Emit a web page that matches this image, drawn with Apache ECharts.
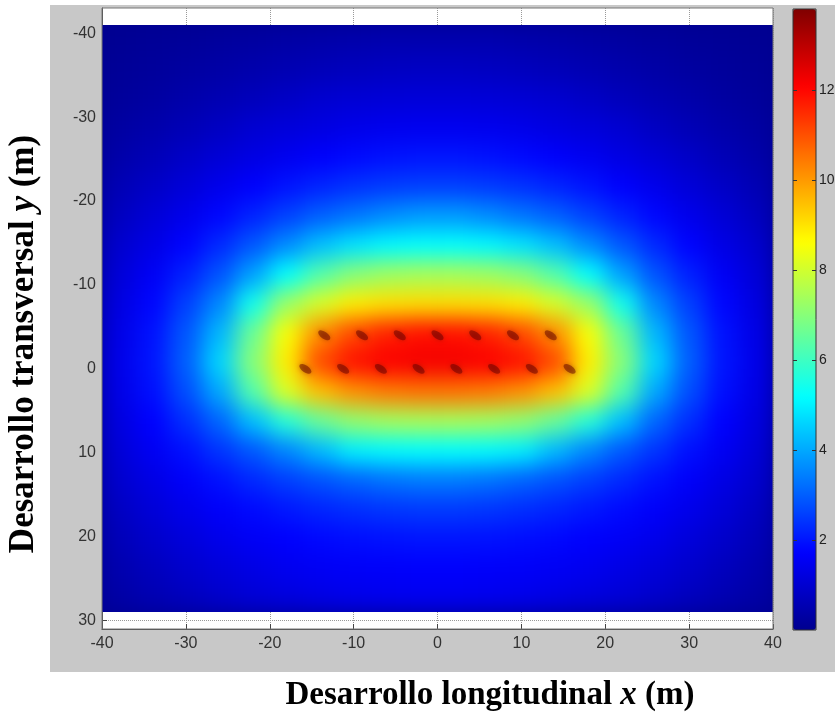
<!DOCTYPE html>
<html>
<head>
<meta charset="utf-8">
<script src="https://cdn.jsdelivr.net/npm/echarts@6/dist/echarts.min.js"></script>
<style>
  body { margin: 0; background: #fff; }
  .layer { position: absolute; left: 0; top: 0; width: 835px; height: 723px; }
  #panel { position: absolute; left: 50px; top: 5px; width: 785px; height: 667px; background: #c8c8c8; }
  #clip { position: absolute; left: 102px; top: 25px; width: 671px; height: 587px; overflow: hidden; }
  #heat { position: absolute; left: -40px; top: -40px; width: 751px; height: 667px; filter: blur(11px); }
</style>
</head>
<body>
<div id="panel"></div>
<div id="base" class="layer"></div>
<div id="clip"><div id="heat"></div></div>
<div id="top" class="layer"></div>
<script>
// centros de las celdas (m)
var xCenters = [-38, -34, -30, -26, -22, -18, -14, -10, -6, -2, 2, 6, 10, 14, 18, 22, 26, 30, 34, 38];
var yCenters = [-39.25, -35.75, -32.25, -28.75, -25.25, -21.75, -18.25, -14.75, -11.25, -7.75,
                -4.25, -0.75, 2.75, 6.25, 9.75, 13.25, 16.75, 20.25, 23.75, 27.25];

// valores, una fila por cada y (de arriba a abajo)
var zRows = [
  [0.08,0.12,0.15,0.22,0.28,0.34,0.40,0.45,0.49,0.5,0.5,0.49,0.45,0.40,0.34,0.28,0.22,0.15,0.12,0.08],
  [0.12,0.18,0.26,0.35,0.45,0.54,0.63,0.71,0.77,0.8,0.8,0.77,0.71,0.63,0.54,0.45,0.35,0.26,0.18,0.12],
  [0.19,0.28,0.41,0.54,0.68,0.83,0.98,1.06,1.11,1.13,1.13,1.11,1.06,0.98,0.83,0.68,0.54,0.41,0.28,0.19],
  [0.29,0.43,0.6,0.79,1.02,1.15,1.27,1.38,1.46,1.49,1.49,1.46,1.38,1.27,1.15,1.02,0.79,0.6,0.43,0.29],
  [0.42,0.62,0.86,1.1,1.3,1.5,1.68,1.83,1.94,1.99,1.99,1.94,1.83,1.68,1.5,1.3,1.1,0.86,0.62,0.42],
  [0.58,0.84,1.13,1.41,1.69,1.97,2.2,2.38,2.51,2.57,2.57,2.51,2.38,2.2,1.97,1.69,1.41,1.13,0.84,0.58],
  [0.75,1.1,1.42,1.79,2.18,2.6,3.0,3.3,3.6,3.8,3.8,3.6,3.3,3.0,2.6,2.18,1.79,1.42,1.1,0.75],
  [0.97,1.32,1.75,2.27,2.9,3.6,4.3,4.8,5.1,5.2,5.2,5.1,4.8,4.3,3.6,2.9,2.27,1.75,1.32,0.97],
  [1.13,1.57,2.14,2.84,3.9,5.2,6.3,7.0,7.3,7.4,7.4,7.3,7.0,6.3,5.2,3.9,2.84,2.14,1.57,1.13],
  [1.26,1.79,2.57,3.54,5.4,7.25,8.1,8.84,9.03,9.08,9.08,9.03,8.84,8.1,7.25,5.4,3.54,2.57,1.79,1.26],
  [1.36,1.95,2.88,4.2,6.6,8.55,10.18,11.1,11.63,11.86,11.86,11.63,11.1,10.18,8.55,6.6,4.2,2.88,1.95,1.36],
  [1.4,2.0,3.0,4.6,7.0,8.84,11.1,11.86,12.12,12.2,12.2,12.12,11.86,11.1,8.84,7.0,4.6,3.0,2.0,1.4],
  [1.35,1.91,2.78,4.0,6.3,8.15,9.48,10.11,10.42,10.52,10.52,10.42,10.11,9.48,8.15,6.3,4.0,2.78,1.91,1.35],
  [1.25,1.73,2.35,3.1,4.3,5.69,6.58,7.15,7.37,7.44,7.44,7.37,7.15,6.58,5.69,4.3,3.1,2.35,1.73,1.25],
  [1.13,1.54,1.93,2.43,2.93,3.54,4.24,4.98,5.13,5.18,5.18,5.13,4.98,4.24,3.54,2.93,2.43,1.93,1.54,1.13],
  [0.99,1.32,1.65,1.94,2.27,2.58,2.85,3.09,3.29,3.4,3.4,3.29,3.09,2.85,2.58,2.27,1.94,1.65,1.32,0.99],
  [0.8,1.12,1.42,1.65,1.84,2.03,2.21,2.35,2.45,2.5,2.5,2.45,2.35,2.21,2.03,1.84,1.65,1.42,1.12,0.8],
  [0.65,0.92,1.17,1.41,1.58,1.71,1.82,1.9,1.96,2.0,2.0,1.96,1.9,1.82,1.71,1.58,1.41,1.17,0.92,0.65],
  [0.5,0.72,0.96,1.16,1.33,1.5,1.57,1.63,1.67,1.7,1.7,1.67,1.63,1.57,1.5,1.33,1.16,0.96,0.72,0.5],
  [0.36,0.54,0.73,0.93,1.09,1.22,1.32,1.41,1.47,1.5,1.5,1.47,1.41,1.32,1.22,1.09,0.93,0.73,0.54,0.36]
];

// puntos (fila superior y = -4, fila inferior y = 0)
var dotX = [-13.5, -9, -4.5, 0, 4.5, 9, 13.5, -15.75, -11.25, -6.75, -2.25, 2.25, 6.75, 11.25, 15.75];
var dotY = [-4, -4, -4, -4, -4, -4, -4, 0, 0, 0, 0, 0, 0, 0, 0];

var yTicks = [-40, -30, -20, -10, 0, 10, 20, 30];
var barTicks = [2, 4, 6, 8, 10, 12];

var jet = ['#00008f', '#0000ff', '#0080ff', '#00ffff', '#80ff80', '#ffff00', '#ff8000', '#ff0000', '#800000'];

var heatData = [];
zRows.forEach(function (row, j) {
    row.forEach(function (v, i) { heatData.push([i, j, v]); });
});
var dots = dotX.map(function (x, i) { return [x, dotY[i]]; });

var sans = 'Liberation Sans, Arial, sans-serif';
var serif = 'Liberation Serif, Times New Roman, serif';

// capa de fondo: ejes, rejilla, barra de color y titulos
var base = echarts.init(document.getElementById('base'));
base.setOption({
    animation: false,
    grid: { left: 102, top: 8, width: 671, height: 621, show: true, backgroundColor: '#fff', borderWidth: 0, outerBoundsMode: 'none' },
    xAxis: {
        type: 'value', min: -40, max: 40, interval: 10,
        axisLine: { onZero: false, lineStyle: { color: '#444' } },
        axisTick: { inside: true, length: 5, lineStyle: { color: '#444' } },
        axisLabel: { color: '#333', fontSize: 16, margin: 7, fontFamily: sans },
        splitLine: { lineStyle: { type: 'dotted', color: '#999' } }
    },
    yAxis: {
        type: 'value', min: -43, max: 31, inverse: true,
        axisLine: { show: true, onZero: false, lineStyle: { color: '#444' } },
        axisTick: { show: true, inside: true, length: 5, customValues: yTicks, lineStyle: { color: '#444' } },
        axisLabel: { customValues: yTicks, color: '#333', fontSize: 16, margin: 6, fontFamily: sans },
        splitLine: { lineStyle: { type: 'dotted', color: '#999' } }
    },
    visualMap: {
        type: 'continuous', min: 0, max: 13.8, left: 793, top: 9,
        itemWidth: 23, itemHeight: 621, padding: 0, calculable: false, hoverLink: false,
        inRange: { color: jet }
    },
    graphic: [
        {
            type: 'text', x: 490, y: 695,
            style: {
                text: '{r|Desarrollo longitudinal }{i|x}{r| (m)}',
                align: 'center', verticalAlign: 'middle',
                rich: {
                    r: { fontFamily: serif, fontWeight: 'bold', fontSize: 33, fill: '#000' },
                    i: { fontFamily: serif, fontWeight: 'bold', fontStyle: 'italic', fontSize: 33, fill: '#000' }
                }
            }
        },
        {
            type: 'text', x: 24, y: 344, rotation: Math.PI / 2,
            style: {
                text: '{r|Desarrollo transversal }{i|y}{r| (m)}',
                align: 'center', verticalAlign: 'middle',
                rich: {
                    r: { fontFamily: serif, fontWeight: 'bold', fontSize: 35, fill: '#000' },
                    i: { fontFamily: serif, fontWeight: 'bold', fontStyle: 'italic', fontSize: 35, fill: '#000' }
                }
            }
        }
    ]
});

// mapa de calor (suavizado con un desenfoque CSS como el sombreado interpolado)
var heat = echarts.init(document.getElementById('heat'));
heat.setOption({
    animation: false,
    backgroundColor: '#00008f',
    grid: { left: 40, top: 40, right: 40, bottom: 40, outerBoundsMode: 'none' },
    xAxis: { type: 'category', data: xCenters, show: false },
    yAxis: { type: 'category', data: yCenters, inverse: true, show: false },
    visualMap: { show: false, min: 0, max: 13.8, inRange: { color: jet } },
    series: [{ type: 'heatmap', data: heatData }]
});

// capa superior: marco, puntos y escala de la barra de color
var topc = echarts.init(document.getElementById('top'));
topc.setOption({
    animation: false,
    grid: [
        { left: 102, top: 8, width: 671, height: 621, show: true, borderColor: '#777', borderWidth: 1, outerBoundsMode: 'none' },
        { left: 793, top: 9, width: 23, height: 621, show: true, borderColor: '#333', borderWidth: 1, outerBoundsMode: 'none' }
    ],
    xAxis: [
        { gridIndex: 0, type: 'value', min: -40, max: 40, show: false },
        { gridIndex: 1, type: 'value', min: 0, max: 1, show: false }
    ],
    yAxis: [
        { gridIndex: 0, type: 'value', min: -43, max: 31, inverse: true, show: false },
        {
            gridIndex: 1, type: 'value', min: 0, max: 13.8, position: 'right',
            axisLine: { show: false, onZero: false }, splitLine: { show: false },
            axisTick: { show: true, inside: true, length: 4, customValues: barTicks, lineStyle: { color: '#333' } },
            axisLabel: { customValues: barTicks, margin: 3, fontSize: 14, color: '#222', fontFamily: sans }
        },
        {
            gridIndex: 1, type: 'value', min: 0, max: 13.8, position: 'left',
            axisLine: { show: false, onZero: false }, splitLine: { show: false },
            axisTick: { show: true, inside: true, length: 4, customValues: barTicks, lineStyle: { color: '#333' } },
            axisLabel: { show: false }
        }
    ],
    series: [{
        type: 'scatter', xAxisIndex: 0, yAxisIndex: 0, data: dots, silent: true,
        symbol: 'circle', symbolSize: [14, 7], symbolRotate: -35,
        itemStyle: { color: 'rgba(95,0,0,0.62)', shadowBlur: 5, shadowColor: 'rgba(110,0,0,0.7)' }
    }]
});
</script>
</body>
</html>
